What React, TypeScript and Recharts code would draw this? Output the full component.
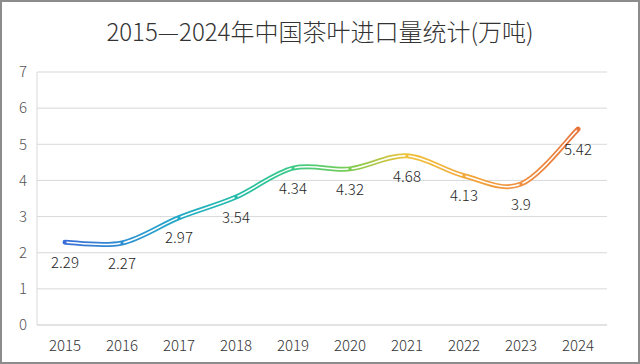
import React from 'react'
import { LineChart, Line, XAxis, YAxis, CartesianGrid, LabelList } from 'recharts'

const years = ['2015', '2016', '2017', '2018', '2019', '2020', '2021', '2022', '2023', '2024']
const imports = [2.29, 2.27, 2.97, 3.54, 4.34, 4.32, 4.68, 4.13, 3.9, 5.42]
const yTicks = [0, 1, 2, 3, 4, 5, 6, 7]

const pointColors = ['#3a6fd8', '#2e8fd0', '#22a9c8', '#23bba8', '#3ccc88', '#7acb50', '#f0c33c', '#f2a83a', '#f09040', '#e8743a']

const data = years.map((year, i) => ({ year, value: imports[i] }))

// Excel 风格的平滑曲线（Catmull-Rom）
function excelSmooth(context: any) {
  let pts: [number, number][] = []
  return {
    areaStart() {},
    areaEnd() {},
    lineStart() {
      pts = []
    },
    point(x: number, y: number) {
      pts.push([+x, +y])
    },
    lineEnd() {
      if (!pts.length) return
      context.moveTo(pts[0][0], pts[0][1])
      for (let i = 0; i < pts.length - 1; i++) {
        const p0 = pts[i - 1] || pts[i]
        const p1 = pts[i]
        const p2 = pts[i + 1]
        const p3 = pts[i + 2] || pts[i + 1]
        const c1x = p1[0] + (p2[0] - p0[0]) / 6
        const c1y = p1[1] + (p2[1] - p0[1]) / 6
        const c2x = p2[0] - (p3[0] - p1[0]) / 6
        const c2y = p2[1] - (p3[1] - p1[1]) / 6
        context.bezierCurveTo(c1x, c1y, c2x, c2y, p2[0], p2[1])
      }
    },
  }
}

const font = '"Noto Sans CJK SC", "Noto Sans", sans-serif'

const SquareDot = (props: any) => {
  const { cx, cy, index } = props
  if (cx == null || cy == null) return null
  return <rect x={cx - 1.5} y={cy - 1.5} width={3} height={3} fill={pointColors[index]} />
}

export default function App() {
  return (
    <div
      style={{
        position: 'absolute',
        left: 0,
        top: 0,
        width: 640,
        height: 364,
        border: '2px solid #8c8c8c',
        boxSizing: 'border-box',
        background: '#fff',
        fontFamily: font,
      }}
    >
      <div
        style={{
          position: 'absolute',
          left: 0,
          top: 11,
          width: 636,
          textAlign: 'center',
          fontSize: 24,
          fontWeight: 300,
          color: '#333',
        }}
      >
        2015—2024年中国茶叶进口量统计(万吨)
      </div>
      <div style={{ position: 'absolute', left: -2, top: -2 }}>
        <LineChart width={640} height={364} data={data} margin={{ top: 72, right: 33, bottom: 9, left: 0 }}>
          <defs>
            <linearGradient id="lineGrad" x1="0" y1="0" x2="1" y2="0">
              {pointColors.map((c, i) => (
                <stop key={i} offset={`${(i / (pointColors.length - 1)) * 100}%`} stopColor={c} />
              ))}
            </linearGradient>
          </defs>
          <CartesianGrid vertical={false} stroke="#d9d9d9" />
          <XAxis
            dataKey="year"
            axisLine={{ stroke: '#d9d9d9' }}
            tickLine={false}
            tickMargin={9}
            height={30}
            padding={{ left: 28, right: 29 }}
            tick={{ fontSize: 15, fill: '#333', fontFamily: font, fontWeight: 300 }}
          />
          <YAxis
            domain={[0, 7]}
            ticks={yTicks}
            width={37}
            axisLine={{ stroke: '#d9d9d9' }}
            tickLine={false}
            tickMargin={4}
            tick={{ fontSize: 15, fill: '#555', fontFamily: font, fontWeight: 300 }}
          />
          <Line
            dataKey="value"
            type={excelSmooth as any}
            stroke="url(#lineGrad)"
            strokeWidth={5}
            strokeLinecap="round"
            dot={false}
            activeDot={false}
            isAnimationActive={false}
          />
          <Line
            dataKey="value"
            type={excelSmooth as any}
            stroke="#ffffff"
            strokeWidth={1.5}
            dot={<SquareDot />}
            activeDot={false}
            isAnimationActive={false}
          >
            <LabelList
              dataKey="value"
              position="bottom"
              offset={15}
              style={{ fontSize: 15, fill: '#262626', fontFamily: font, fontWeight: 300 }}
            />
          </Line>
        </LineChart>
      </div>
    </div>
  )
}
